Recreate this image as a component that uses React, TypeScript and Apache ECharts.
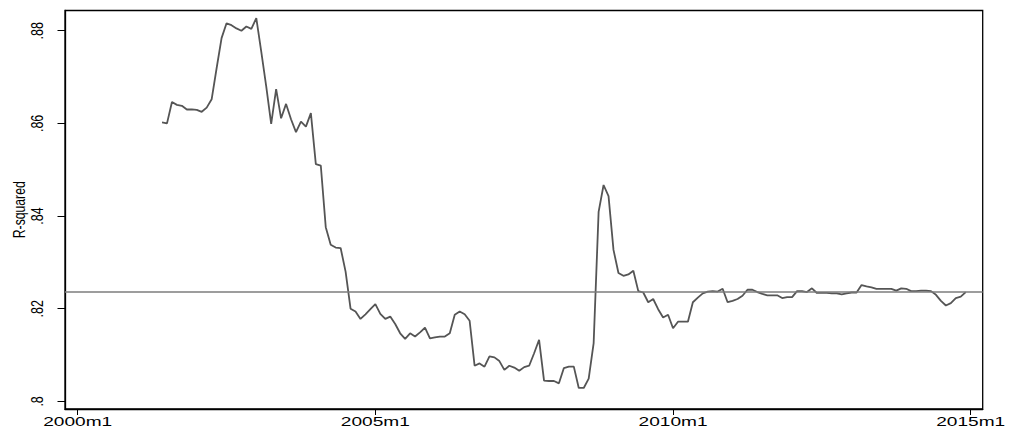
import React, { useEffect, useRef } from "react";
import * as echarts from "echarts";

// Time axis is counted in months since 2000m1.
const tickValues = [0, 60, 120, 180];
const tickLabels = ["2000m1", "2005m1", "2010m1", "2015m1"];
const yTicks = [0.8, 0.82, 0.84, 0.86, 0.88];
const yTickLabels = [".8", ".82", ".84", ".86", ".88"];
const yTitle = "R-squared";

// Rolling R-squared, monthly from 2001m6 to 2014m12.
const firstMonth = 17; // 2001m6
const rSquared = [
  0.8602, 0.86, 0.8646, 0.864, 0.8638, 0.863, 0.863, 0.8629, 0.8625, 0.8634,
  0.8652, 0.8719, 0.8784, 0.8816, 0.8812, 0.8805, 0.88, 0.8809, 0.8804, 0.8827,
  0.8755, 0.868, 0.8599, 0.8674, 0.8611, 0.8642, 0.8609, 0.8581, 0.8604, 0.8593,
  0.8622, 0.8512, 0.8509, 0.8376, 0.8338, 0.8332, 0.8331, 0.828, 0.82, 0.8194,
  0.8178, 0.8188, 0.8199, 0.821, 0.8189, 0.8178, 0.8183, 0.8167, 0.8147, 0.8135,
  0.8147, 0.814, 0.8149, 0.8159, 0.8136, 0.8138, 0.814, 0.814, 0.8147, 0.8187,
  0.8194, 0.8188, 0.8174, 0.8077, 0.8082, 0.8075, 0.8097, 0.8095, 0.8087, 0.8068,
  0.8077, 0.8073, 0.8066, 0.8074, 0.8077, 0.8104, 0.8133, 0.8045, 0.8044, 0.8044,
  0.8039, 0.8072, 0.8075, 0.8075, 0.8029, 0.8029, 0.8049, 0.8126, 0.8409, 0.8467,
  0.8443, 0.8327, 0.8277, 0.8271, 0.8274, 0.8282, 0.8238, 0.8235, 0.8214, 0.8221,
  0.8199, 0.8181, 0.8187, 0.8158, 0.8172, 0.8172, 0.8172, 0.8214, 0.8224, 0.8233,
  0.8237, 0.8238, 0.8237, 0.8243, 0.8214, 0.8217, 0.8221, 0.8228, 0.8241, 0.8241,
  0.8236, 0.8232, 0.8229, 0.8229, 0.8229, 0.8223, 0.8225, 0.8225, 0.8238, 0.8238,
  0.8236, 0.8244, 0.8234, 0.8234, 0.8234, 0.8233, 0.8233, 0.8231, 0.8233, 0.8235,
  0.8235, 0.8251, 0.8248, 0.8246, 0.8243, 0.8243, 0.8243, 0.8243, 0.8239, 0.8244,
  0.8243, 0.8238, 0.8238, 0.8239, 0.8239, 0.8238, 0.823, 0.8217, 0.8207, 0.8212,
  0.8223, 0.8226, 0.8236,
];

// Horizontal reference level.
const referenceLevel = 0.8237;

const FONT = '"Liberation Sans", Arial, Helvetica, sans-serif';

export default function App() {
  const ref = useRef<HTMLDivElement>(null);

  useEffect(() => {
    const el = ref.current;
    if (!el) return;
    const chart = echarts.init(el, null, { renderer: "svg" });
    const points = rSquared.map((v, i) => [firstMonth + i, v]);

    chart.setOption({
      animation: false,
      backgroundColor: "#ffffff",
      grid: {
        left: 65,
        right: 26.3,
        top: 10.5,
        bottom: 21,
        show: true,
        borderColor: "#000000",
        borderWidth: 1.3,
        backgroundColor: "#ffffff",
        outerBoundsMode: "none",
      },
      xAxis: {
        type: "value",
        min: -2.56,
        max: 182.42,
        splitLine: { show: false },
        axisLine: { show: true, onZero: false, lineStyle: { color: "#000000", width: 1.3 } },
        axisTick: {
          show: true,
          customValues: tickValues,
          length: 6,
          lineStyle: { color: "#000000", width: 1 },
        },
        axisLabel: { show: false },
      },
      yAxis: {
        type: "value",
        min: 0.79836,
        max: 0.88436,
        splitLine: { show: false },
        axisLine: { show: true, onZero: false, lineStyle: { color: "#000000", width: 1.3 } },
        axisTick: {
          show: true,
          customValues: yTicks,
          length: 7.5,
          lineStyle: { color: "#000000", width: 1 },
        },
        axisLabel: { show: false },
      },
      series: [
        {
          type: "line",
          data: points,
          showSymbol: false,
          symbol: "none",
          lineStyle: { color: "#555555", width: 1.8 },
          emphasis: { disabled: true },
          markLine: {
            silent: true,
            precision: 4,
            symbol: ["none", "none"],
            label: { show: false },
            lineStyle: { color: "#7c7c7c", type: "solid", width: 1.5 },
            emphasis: { disabled: true },
            data: [{ yAxis: referenceLevel }],
          },
        },
      ],
    });

    const textStyle = (text: string, size: number, align: string, vAlign: string) => ({
      text,
      font: `${size}px ${FONT}`,
      fill: "#000000",
      textAlign: align,
      textVerticalAlign: vAlign,
      align,
      verticalAlign: vAlign,
    });

    // Date labels under the time axis, set in widened type.
    const dateLabels = tickValues.map((v, i) => ({
      type: "text",
      x: chart.convertToPixel({ xAxisIndex: 0 }, v) as number,
      y: 421,
      scaleX: 1.47,
      silent: true,
      style: textStyle(tickLabels[i], 13, "center", "middle"),
    }));

    // Rotated value labels left of the axis, reading bottom to top.
    const valueLabels = yTicks.map((v, i) => ({
      type: "text",
      x: 46,
      y: chart.convertToPixel({ yAxisIndex: 0 }, v) as number,
      rotation: Math.PI / 2,
      scaleY: 1.3,
      silent: true,
      style: textStyle(yTickLabels[i], 12.5, "center", "bottom"),
    }));

    const plotMid =
      ((chart.convertToPixel({ yAxisIndex: 0 }, 0.79836) as number) +
        (chart.convertToPixel({ yAxisIndex: 0 }, 0.88436) as number)) /
      2;

    const title = {
      type: "text",
      x: 27,
      y: plotMid,
      rotation: Math.PI / 2,
      scaleY: 1.3,
      silent: true,
      style: textStyle(yTitle, 12.2, "center", "bottom"),
    };

    chart.setOption({ graphic: [...dateLabels, ...valueLabels, title] });

    return () => chart.dispose();
  }, []);

  return (
    <div
      ref={ref}
      style={{ position: "fixed", left: 0, top: 0, width: 1009, height: 430 }}
    />
  );
}
